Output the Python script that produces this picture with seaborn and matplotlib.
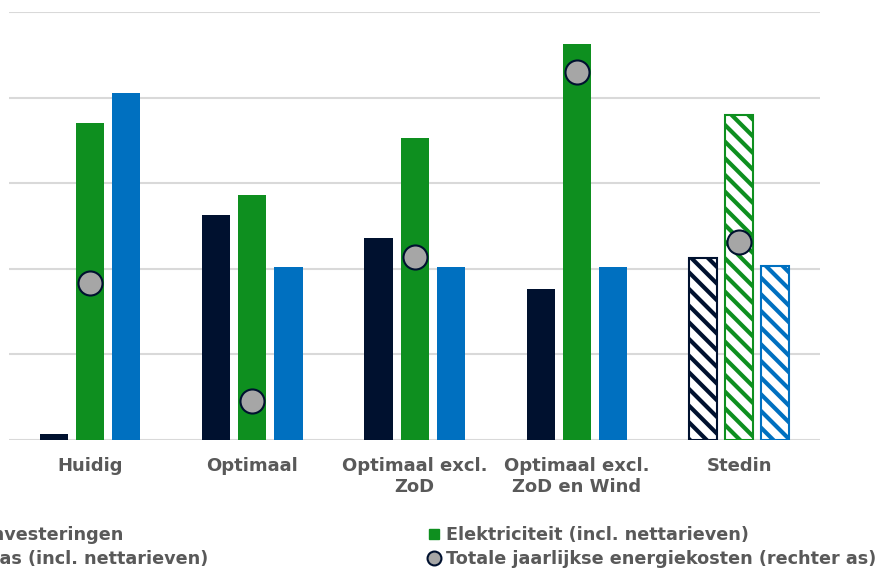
import numpy as np
import pandas as pd
import matplotlib
matplotlib.use("Agg")
import matplotlib.pyplot as plt
from matplotlib.lines import Line2D
import seaborn as sns

# data (left axis in grid units, right axis scaled alike)
categories = ["Huidig", "Optimaal", "Optimaal excl.\nZoD", "Optimaal excl.\nZoD en Wind", "Stedin"]
investeringen = [0.07, 2.63, 2.36, 1.76, 2.13]
elektriciteit = [3.70, 2.86, 3.53, 4.63, 3.80]
gas = [4.05, 2.02, 2.02, 2.02, 2.03]
totale_kosten = [1.83, 0.46, 2.14, 4.30, 2.31]

series = ["Investeringen", "Elektriciteit (incl. nettarieven)", "Gas (incl. nettarieven)"]
colors = ["#00112F", "#0E8F1F", "#0070C0"]
dot_color = "#A6A6A6"
text_color = "#595959"
grid_color = "#D9D9D9"

df = pd.DataFrame({
    "categorie": categories * 3,
    "serie": [series[0]] * 5 + [series[1]] * 5 + [series[2]] * 5,
    "waarde": investeringen + elektriciteit + gas,
})

sns.set_theme(style="white")
plt.rcParams["font.family"] = ["DejaVu Sans"]
plt.rcParams["hatch.linewidth"] = 3.0

fig = plt.figure(figsize=(8.79, 5.73), dpi=100)
ax = fig.add_axes([0.0102, 0.232, 0.923, 0.747])

sns.barplot(data=df, x="categorie", y="waarde", hue="serie", hue_order=series,
            palette=colors, width=0.667, gap=0.22, ax=ax, legend=False,
            linewidth=0, saturation=1)

# Stedin bars are hatched
for cont, col in zip(ax.containers, colors):
    bar = cont.patches[-1]
    bar.set_facecolor("white")
    bar.set_edgecolor(col)
    bar.set_hatch("\\\\")
    bar.set_linewidth(1.5)

ax.set_ylim(0, 5)
ax.set_xlim(-0.5, 4.5)
ax.set_yticks(np.arange(0, 6, 1))
ax.yaxis.grid(True, color=grid_color, linewidth=1.5)
ax.set_axisbelow(True)
ax.set_yticklabels([])
ax.tick_params(axis="y", length=0)
ax.tick_params(axis="x", length=0, pad=12, labelsize=13, labelcolor=text_color)
for lab in ax.get_xticklabels():
    lab.set_fontweight("bold")
    lab.set_linespacing(1.25)
ax.set_xlabel("")
ax.set_ylabel("")
for s in ["top", "right", "left", "bottom"]:
    ax.spines[s].set_visible(False)

ax2 = ax.twinx()
sns.scatterplot(x=np.arange(len(categories)), y=totale_kosten, ax=ax2, s=300,
                color=dot_color, edgecolor="#00112F", linewidth=1.5, zorder=5)
ax2.set_ylim(0, 5)
ax2.set_yticks([])
for s in ["top", "right", "left", "bottom"]:
    ax2.spines[s].set_visible(False)

def sq(c):
    return Line2D([], [], marker="s", linestyle="none", markersize=7, color=c)

circ = Line2D([], [], marker="o", linestyle="none", markersize=10,
              markerfacecolor=dot_color, markeredgecolor="#00112F", markeredgewidth=1.5)

common = dict(frameon=False, prop={"weight": "bold", "size": 12.7}, labelcolor=text_color,
              handlelength=0.6, handletextpad=0.35, borderpad=0, borderaxespad=0,
              labelspacing=0.36, loc="upper left")
leg1 = fig.legend([sq(colors[0]), sq(colors[2])], [series[0], series[2]],
                  bbox_to_anchor=(-0.036, 0.082), **common)
leg2 = fig.legend([sq(colors[1]), circ], [series[1], "Totale jaarlijkse energiekosten (rechter as)"],
                  bbox_to_anchor=(0.488, 0.082), **common)

fig.savefig("out.png", dpi=100)
